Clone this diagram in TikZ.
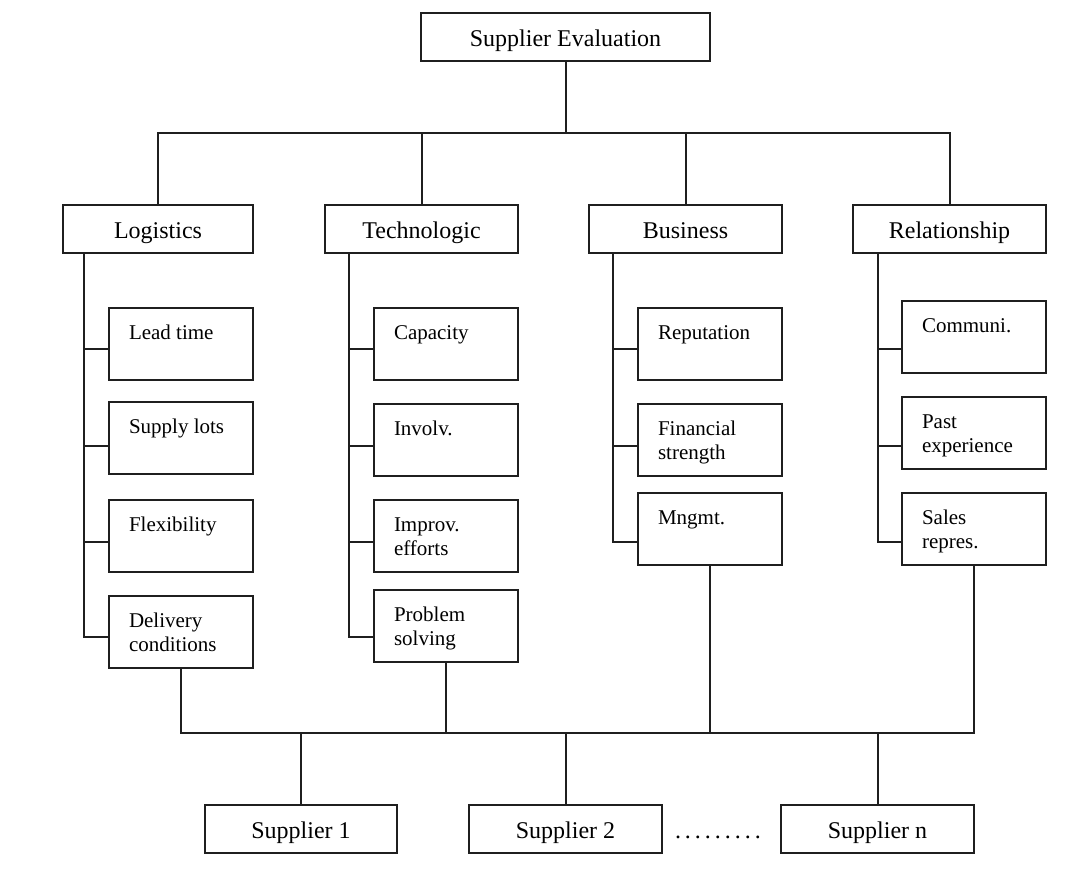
\documentclass[tikz,border=0pt]{standalone}
\usepackage{fontspec}
\setmainfont{Liberation Serif}
\usetikzlibrary{calc}

% text inside a criterion box: top-left aligned, two lines at most
\newcommand{\critext}[1]{\parbox[c][72pt][t]{144pt}{\raggedright\leftskip=20pt\relax\parindent=0pt
  \fontsize{21}{24}\selectfont\rule{0pt}{31.5pt}#1}}

\tikzset{
  wire/.style={line width=2pt, draw=black!88},
  headbox/.style={draw=black!88, line width=2pt, inner sep=0pt,
    minimum height=48pt, text height=24pt, text depth=6pt,
    font=\fontsize{24}{28}\selectfont},
  critbox/.style={draw=black!88, line width=2pt, inner sep=0pt,
    minimum width=144pt, minimum height=72pt},
}

\begin{document}
\begin{tikzpicture}[x=1pt, y=-1pt]
\useasboundingbox (0,0) rectangle (1085,870);

% goal
\node[headbox, minimum width=289pt] (goal) at (565.5,37) {Supplier Evaluation};

% main criteria
\node[headbox, minimum width=190pt] (log) at (158,229) {Logistics};
\node[headbox, minimum width=193pt] (tec) at (421.5,229) {Technologic};
\node[headbox, minimum width=193pt] (bus) at (685.5,229) {Business};
\node[headbox, minimum width=193pt] (rel) at (949.5,229) {Relationship};

% sub-criteria: logistics
\node[critbox] (lt) at (181,343.5) {\critext{Lead time}};
\node[critbox] (sl) at (181,438)   {\critext{Supply lots}};
\node[critbox] (fx) at (181,536)   {\critext{Flexibility}};
\node[critbox] (dc) at (181,632)   {\critext{Delivery\\conditions}};
% sub-criteria: technologic
\node[critbox] (cp) at (446,343.5) {\critext{Capacity}};
\node[critbox] (iv) at (446,440)   {\critext{Involv.}};
\node[critbox] (ie) at (446,535.5) {\critext{Improv.\\efforts}};
\node[critbox] (ps) at (446,625.5) {\critext{Problem\\solving}};
% sub-criteria: business
\node[critbox] (rp) at (710,344)   {\critext{Reputation}};
\node[critbox] (fs) at (710,439.5) {\critext{Financial\\strength}};
\node[critbox] (mg) at (710,529)   {\critext{Mngmt.}};
% sub-criteria: relationship
\node[critbox] (cm) at (974,337)   {\critext{Communi.}};
\node[critbox] (pe) at (974,433)   {\critext{Past\\experience}};
\node[critbox] (sr) at (974,529)   {\critext{Sales\\repres.}};

% alternatives
\node[headbox, minimum width=192pt] (s1) at (301,829) {Supplier 1};
\node[headbox, minimum width=193pt] (s2) at (565.5,829) {Supplier 2};
\node[headbox, minimum width=193pt] (sn) at (877.5,829) {Supplier n};
\node[anchor=base, inner sep=0pt, font=\fontsize{24}{28}\selectfont] (dots) at (718,838)
  {\makebox[90pt]{\leaders\hbox to 10pt{\hss.\hss}\hfill}};

% helper levels
\coordinate (bt) at (0,133);   % bus under the goal
\coordinate (bb) at (0,733);   % bus above the suppliers
\coordinate (r1) at (0,349);
\coordinate (r2) at (0,445.5);
\coordinate (r3) at (0,541.5);
\coordinate (r4) at (0,637);
\coordinate (kL) at (84,0);
\coordinate (kT) at (349,0);
\coordinate (kB) at (613,0);
\coordinate (kR) at (878,0);

% goal -> main criteria
\draw[wire] (goal.south) -- (goal.south |- bt);
\draw[wire] (log.north) -- (log.north |- bt) -- (rel.north |- bt) -- (rel.north);
\draw[wire] (tec.north) -- (tec.north |- bt);
\draw[wire] (bus.north) -- (bus.north |- bt);

% logistics trunk
\draw[wire] (log.south -| kL) -- (kL |- r4) -- (dc.west |- r4);
\draw[wire] (lt.west |- r1) -- (kL |- r1);
\draw[wire] (sl.west |- r2) -- (kL |- r2);
\draw[wire] (fx.west |- r3) -- (kL |- r3);
% technologic trunk
\draw[wire] (tec.south -| kT) -- (kT |- r4) -- (ps.west |- r4);
\draw[wire] (cp.west |- r1) -- (kT |- r1);
\draw[wire] (iv.west |- r2) -- (kT |- r2);
\draw[wire] (ie.west |- r3) -- (kT |- r3);
% business trunk
\draw[wire] (bus.south -| kB) -- (kB |- r3) -- (mg.west |- r3);
\draw[wire] (rp.west |- r1) -- (kB |- r1);
\draw[wire] (fs.west |- r2) -- (kB |- r2);
% relationship trunk
\draw[wire] (rel.south -| kR) -- (kR |- r3) -- (sr.west |- r3);
\draw[wire] (cm.west |- r1) -- (kR |- r1);
\draw[wire] (pe.west |- r2) -- (kR |- r2);

% criteria -> suppliers
\draw[wire] (dc.south) -- (dc.south |- bb) -- (sr.south |- bb) -- (sr.south);
\draw[wire] (ps.south) -- (ps.south |- bb);
\draw[wire] (mg.south) -- (mg.south |- bb);
\draw[wire] (s1.north) -- (s1.north |- bb);
\draw[wire] (s2.north) -- (s2.north |- bb);
\draw[wire] (sn.north) -- (sn.north |- bb);
\end{tikzpicture}
\end{document}
